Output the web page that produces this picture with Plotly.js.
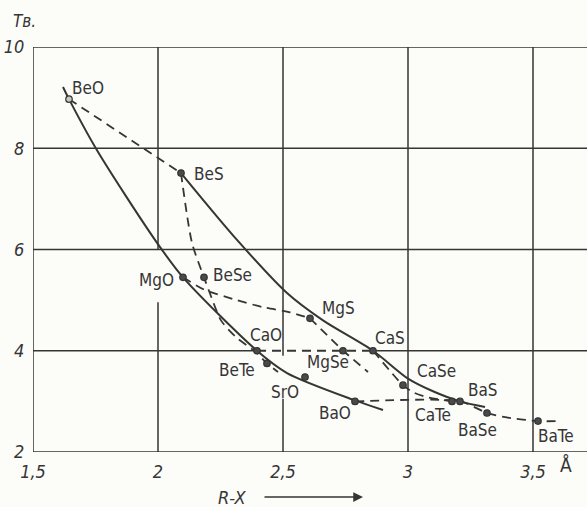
<!DOCTYPE html>
<html>
<head>
<meta charset="utf-8">
<script src="https://cdn.plot.ly/plotly-3.0.1.min.js"></script>
<style>
  html, body { margin: 0; padding: 0; background: #fcfcf8; }
  #chart { width: 587px; height: 507px; }
</style>
</head>
<body>
<div id="chart"></div>
<script>
// ---- data ----
const compounds = ['BeO','BeS','BeSe','BeTe','MgO','MgS','MgSe','CaO','CaS','CaSe','CaTe','SrO','BaO','BaS','BaSe','BaTe'];
const rx        = [1.644, 2.092, 2.184, 2.436, 2.100, 2.608, 2.740, 2.396, 2.860, 2.980, 3.176, 2.588, 2.788, 3.208, 3.316, 3.520];
const hardness  = [8.97, 7.51, 5.45, 3.75, 5.45, 4.64, 4.00, 4.00, 4.00, 3.32, 3.00, 3.48, 3.00, 3.00, 2.77, 2.61];

const labelX = [1.720, 2.204, 2.296, 2.316, 1.992, 2.720, 2.680, 2.432, 2.928, 3.112, 3.100, 2.508, 2.708, 3.300, 3.276, 3.592];
const labelY = [9.20, 7.49, 5.49, 3.62, 5.40, 4.84, 3.77, 4.31, 4.25, 3.60, 2.73, 3.18, 2.77, 3.22, 2.43, 2.31];

// solid curves
const oxideX = [1.620, 1.644, 1.756, 1.988, 2.100, 2.396, 2.516, 2.788, 2.900];
const oxideY = [9.21, 8.97, 7.96, 6.19, 5.45, 4.00, 3.56, 3.02, 2.83];
const sulfX  = [2.092, 2.316, 2.516, 2.660, 2.860, 3.000, 3.100, 3.208, 3.308];
const sulfY  = [7.51, 6.19, 5.14, 4.60, 4.00, 3.45, 3.20, 3.00, 2.89];

// dashed series (same cation)
const beAX = [1.644, 2.092];           const beAY = [8.97, 7.51];
const beBX = [2.092, 2.136, 2.184, 2.208, 2.252, 2.312, 2.392, 2.436, 2.480];
const beBY = [7.51, 6.13, 5.45, 5.13, 4.60, 4.27, 3.97, 3.75, 3.58];
const mgAX = [2.100, 2.188, 2.316, 2.420, 2.528, 2.608];
const mgAY = [5.45, 5.20, 5.00, 4.86, 4.76, 4.64];
const mgBX = [2.608, 2.740, 2.840];    const mgBY = [4.64, 4.00, 3.58];
const caAX = [2.396, 2.860];           const caAY = [4.00, 4.00];
const caBX = [2.860, 2.980, 3.020, 3.080, 3.176];
const caBY = [4.00, 3.32, 3.18, 3.08, 3.00];
const baX  = [2.788, 3.208, 3.316, 3.400, 3.520, 3.600];
const baY  = [3.00, 3.00, 2.77, 2.68, 2.61, 2.61];

const xTickVals = [1.5, 2, 2.5, 3, 3.5];
const xTickText = ['1,5', '2', '2,5', '3', '3,5'];
const yTickVals = [2, 4, 6, 8, 10];
const yTickText = ['2', '4', '6', '8', '10'];

// ---- styling ----
const INK = '#353535';
const FONT = 'DejaVu Sans Condensed, DejaVu Sans, sans-serif';
const XMAX = 3.716;

function solid(x, y) {
  return {x, y, mode: 'lines', type: 'scatter', hoverinfo: 'skip',
          line: {color: INK, width: 2, shape: 'spline', smoothing: 0.8}};
}
function dashed(x, y, spline) {
  return {x, y, mode: 'lines', type: 'scatter', hoverinfo: 'skip',
          line: {color: INK, width: 1.8, dash: '9px,6px', shape: spline ? 'spline' : 'linear', smoothing: 0.7}};
}

const traces = [
  solid(oxideX, oxideY),
  solid(sulfX, sulfY),
  dashed(beAX, beAY, false),
  dashed(beBX, beBY, true),
  dashed(mgAX, mgAY, true),
  dashed(mgBX, mgBY, false),
  dashed(caAX, caAY, false),
  dashed(caBX, caBY, true),
  dashed(baX, baY, true),
  {x: rx, y: hardness, text: compounds, mode: 'markers', type: 'scatter', hoverinfo: 'text',
   marker: {size: 6.5,
            color: compounds.map(c => c === 'BeO' ? '#c8c8c0' : '#4a4a4a'),
            line: {color: INK, width: 1.2}}}
];

// grid drawn as segments (the original has gaps behind labels)
const gridSegs = [
  ['v', 1.5, 2, 10], ['v', 2, 2, 4.96], ['v', 2, 6, 10],
  ['v', 2.5, 2, 3.05], ['v', 2.5, 3.9, 10], ['v', 3, 2, 10], ['v', 3.5, 2, 10],
  ['h', 2, 1.5, XMAX], ['h', 4, 1.5, 2.396], ['h', 4, 2.86, XMAX],
  ['h', 6, 1.5, XMAX], ['h', 8, 1.5, XMAX], ['h', 10, 1.5, XMAX]
];
const shapes = gridSegs.map(s => s[0] === 'v'
  ? {type: 'line', xref: 'x', yref: 'y', x0: s[1], x1: s[1], y0: s[2], y1: s[3], layer: 'below', line: {color: INK, width: 1.5}}
  : {type: 'line', xref: 'x', yref: 'y', y0: s[1], y1: s[1], x0: s[2], x1: s[3], layer: 'below', line: {color: INK, width: 1.5}});

const annotations = compounds.map((c, i) => ({
  x: labelX[i], y: labelY[i], xref: 'x', yref: 'y', text: c, showarrow: false,
  xanchor: 'center', yanchor: 'middle',
  font: {family: FONT, size: 17, color: INK}
}));
annotations.push(
  {xref: 'paper', yref: 'paper', x: (24 - 33) / 554, y: (452 - 21) / 405, text: '<i>Тв.</i>',
   showarrow: false, xanchor: 'center', yanchor: 'middle', font: {family: FONT, size: 17, color: INK}},
  {xref: 'paper', yref: 'paper', x: (232 - 33) / 554, y: (452 - 497) / 405, text: '<i>R-X</i>',
   showarrow: false, xanchor: 'center', yanchor: 'middle', font: {family: FONT, size: 18, color: INK}},
  {xref: 'paper', yref: 'paper', x: (566 - 33) / 554, y: (452 - 465) / 405, text: 'Å',
   showarrow: false, xanchor: 'center', yanchor: 'middle', font: {family: FONT, size: 19, color: INK}},
  {xref: 'paper', yref: 'paper', x: (363 - 33) / 554, y: (452 - 497) / 405, text: '',
   showarrow: true, ax: -100, ay: 0, arrowhead: 2, arrowsize: 1.3, arrowwidth: 1.5,
   arrowcolor: INK, standoff: 0, startstandoff: 0}
);

const layout = {
  width: 587, height: 507,
  margin: {l: 33, r: 0, t: 47, b: 55, pad: 0},
  paper_bgcolor: '#fcfcf8', plot_bgcolor: 'rgba(0,0,0,0)',
  showlegend: false,
  font: {family: FONT, color: INK},
  xaxis: {range: [1.5, XMAX], showgrid: false, zeroline: false, showline: false,
          tickmode: 'array', tickvals: xTickVals, ticktext: xTickText.map(t => '<i>' + t + '</i>'),
          ticks: 'outside', ticklen: 3, tickcolor: 'rgba(0,0,0,0)',
          tickfont: {family: FONT, size: 18, color: INK}, fixedrange: true},
  yaxis: {range: [2, 10], showgrid: false, zeroline: false, showline: false,
          tickmode: 'array', tickvals: yTickVals, ticktext: yTickText.map(t => '<i>' + t + '</i>'),
          ticks: 'outside', ticklen: 4, tickcolor: 'rgba(0,0,0,0)',
          tickfont: {family: FONT, size: 18, color: INK}, fixedrange: true},
  shapes, annotations
};

Plotly.newPlot('chart', traces, layout, {displayModeBar: false, staticPlot: true});
</script>
</body>
</html>
